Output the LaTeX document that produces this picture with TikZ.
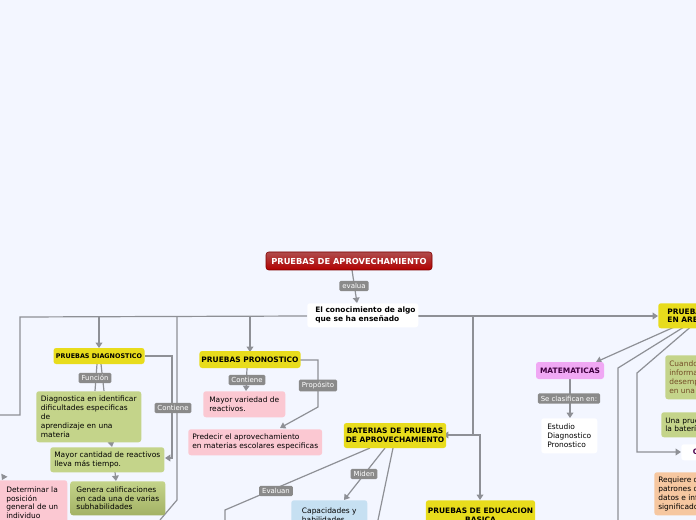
\documentclass[tikz,border=0pt]{standalone}
\usepackage{fontspec}
\setmainfont{DejaVu Sans}
\usetikzlibrary{arrows.meta}
\definecolor{bg}{HTML}{F3F6FF}
\definecolor{ln}{HTML}{8E9096}
\definecolor{yel}{HTML}{E8DC1C}
\definecolor{grn}{HTML}{C4D48A}
\definecolor{grnd}{HTML}{A3B265}
\definecolor{pnk}{HTML}{FBC8D2}
\definecolor{blu}{HTML}{C6E0F2}
\definecolor{org}{HTML}{F6C7A0}
\definecolor{vio}{HTML}{F0A8F4}
\definecolor{lab}{HTML}{8A8A8A}
\tikzset{
 box/.style={rounded corners=2pt, inner sep=1.5pt, align=left, font=\fontsize{5.6}{6.6}\selectfont, anchor=north west},
 ybox/.style={box, fill=yel, font=\bfseries\fontsize{5.6}{6.6}\selectfont, align=center, anchor=center},
 lbl/.style={fill=lab, text=white, rounded corners=1pt, inner xsep=2.2pt, inner ysep=1.8pt, font=\fontsize{5.2}{6}\selectfont, anchor=center},
 con/.style={draw=ln, line width=0.9pt},
 arr/.style={con, -{Triangle[length=4pt,width=5pt]}}
}
\begin{document}
\begin{tikzpicture}[x=0.75pt,y=-0.75pt]
\fill[bg] (0,0) rectangle (696,520);
\useasboundingbox (0,0) rectangle (696,520);
\clip (0,0) rectangle (696,520);
% connectors
\draw[con] (307,316) -- (20,317) -- (20,415) -- (0,415);
\draw[arr] (99,317) -- (99,348);
\draw[arr] (250,317) -- (250,352);
\draw[con] (177,317) -- (177,500) -- (160,520);
\draw[arr] (415,316) -- (658,316);
\draw[arr] (473,316) -- (473,435) -- (443,435);
\draw[arr] (473,435) -- (480,435) -- (480,500);
\draw[arr] (352,270) -- (357,303);
\draw[arr] (145,356) -- (172,356) -- (172,458) -- (165,458);
\draw[con] (97,364) -- (95,391);
\draw[con] (101,364) -- (104,391);
\draw[arr] (111,442) -- (112,447);
\draw[arr] (115,472) -- (116,481);
\draw[arr] (247,368) -- (246,391);
\draw[arr] (300,360) -- (318,360) -- (318,407) -- (280,428);
\draw[con] (370,448) -- (225,510) -- (225,520);
\draw[arr] (385,448) -- (344,500);
\draw[con] (393,448) -- (378,520);
\draw[arr] (690,320) -- (596,362);
\draw[con] (692,322) -- (618,368) -- (618,520);
\draw[arr] (694,324) -- (637,373) -- (637,452) -- (681,452);
\draw[arr] (570,379) -- (570,418);
\draw[arr] (4,476) -- (2,480);
% nodes
\node[box, text=white, font=\bfseries\fontsize{6.2}{7}\selectfont, anchor=center, minimum width=166*0.75pt, minimum height=18*0.75pt, align=center, top color=red!55!black!70!white, bottom color=red!70!black, draw=red!50!black] (title) at (349,261) {PRUEBAS DE APROVECHAMIENTO};
\node[lbl] (ev) at (354,286) {evalua};
\node[box, fill=white, font=\bfseries\fontsize{5.6}{6.6}\selectfont, minimum width=108*0.75pt, minimum height=24*0.75pt, inner sep=2pt] (con) at (307,303) {\hspace{4pt}El conocimiento de algo\\\hspace{4pt}que se ha enseñado};
\node[ybox, minimum width=91*0.75pt, minimum height=16*0.75pt, font=\bfseries\fontsize{4.8}{6}\selectfont] (dia) at (99,356) {PRUEBAS DIAGNOSTICO};
\node[lbl] (fun) at (95,378) {Función};
\node[box, fill=grn, minimum width=105*0.75pt, minimum height=51*0.75pt, inner sep=3pt] (dg) at (36,391) {Diagnostica en identificar\\dificultades especificas\\de\\aprendizaje en una\\materia};
\node[box, fill=grn, minimum width=114*0.75pt, minimum height=25*0.75pt, inner sep=3pt] (mc) at (50,447) {Mayor cantidad de reactivos\\lleva más tiempo.};
\node[box, minimum width=95*0.75pt, minimum height=34*0.75pt, inner sep=3pt, top color=grn, bottom color=grnd] (gen) at (70,481) {Genera calificaciones\\en cada una de varias\\subhabilidades};
\node[box, fill=pnk, minimum width=70*0.75pt, minimum height=45*0.75pt, inner sep=2pt] (det) at (-3,480) {Determinar la\\posición\\general de un\\individuo};
\node[lbl] (cont1) at (173,408) {Contiene};
\node[ybox, minimum width=100*0.75pt, minimum height=17*0.75pt] (pro) at (250,359.5) {PRUEBAS PRONOSTICO};
\node[lbl] (cont2) at (247,380) {Contiene};
\node[box, fill=pnk, minimum width=82*0.75pt, minimum height=26*0.75pt, inner sep=3pt] (mv) at (203,391) {Mayor variedad de\\reactivos.};
\node[lbl] (prop) at (318,385.5) {Propósito};
\node[box, fill=pnk, minimum width=132*0.75pt, minimum height=26*0.75pt, inner sep=3pt] (pred) at (188,429) {Predecir el aprovechamiento\\en materias escolares especificas};
\node[ybox, minimum width=96*0.75pt, minimum height=25*0.75pt] (bat) at (395,435.5) {BATERIAS DE PRUEBAS\\DE APROVECHAMIENTO};
\node[lbl] (mid) at (364,474) {Miden};
\node[lbl] (evl) at (276,491) {Evaluan};
\node[box, fill=blu, minimum width=76*0.75pt, minimum height=30*0.75pt, inner sep=3pt] (cap) at (291,500) {Capacidades y\\habilidades};
\node[ybox, minimum width=107*0.75pt, minimum height=30*0.75pt, anchor=north] (edu) at (480.5,500) {PRUEBAS DE EDUCACION\\BASICA};
\node[box, fill=yel, font=\bfseries\fontsize{5.6}{6.6}\selectfont, minimum width=60*0.75pt, minimum height=25*0.75pt, inner sep=3pt] (are) at (658,303) {PRUEBAS\\EN AREAS};
\node[box, fill=vio, font=\bfseries\fontsize{5.6}{6.6}\selectfont, text=violet!50!black, anchor=center, minimum width=68*0.75pt, minimum height=17*0.75pt, align=center] (mat) at (570,370.5) {MATEMATICAS};
\node[lbl] (cla) at (569,398.5) {Se clasifican en:};
\node[box, fill=white, minimum width=56*0.75pt, minimum height=35*0.75pt, inner sep=3pt] (est) at (541,418) {Estudio\\Diagnostico\\Pronostico};
\node[box, fill=grn, text=brown!60!black, minimum width=50*0.75pt, minimum height=44*0.75pt, inner sep=3pt] (cua) at (665,355) {Cuando se\\información\\desempeño\\en una};
\node[box, fill=grn, minimum width=50*0.75pt, minimum height=25*0.75pt, inner sep=3pt] (una) at (661,412) {Una prueba\\la batería};
\node[box, fill=white, font=\bfseries\fontsize{5.6}{6.6}\selectfont, text=violet!60!black, minimum width=30*0.75pt, minimum height=16*0.75pt, inner sep=3pt] (ci) at (681,444) {\,CI};
\node[box, fill=org, minimum width=50*0.75pt, minimum height=43*0.75pt, inner sep=3pt] (req) at (654,472) {Requiere de\\patrones de\\datos e inf\\significado};
\end{tikzpicture}
\end{document}
